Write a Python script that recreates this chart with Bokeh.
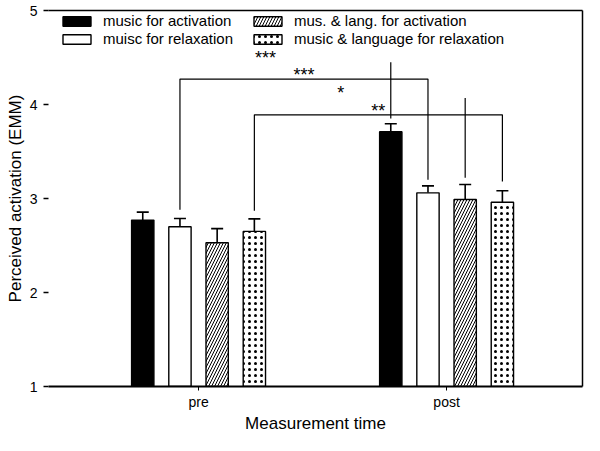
from bokeh.plotting import figure
from bokeh.models import (Range1d, ColumnDataSource, Whisker, TeeHead, LinearAxis,
                          FixedTicker, Legend, LegendItem)
from bokeh.embed import file_html
from bokeh.resources import INLINE
from bokeh.core.properties import value

# ---------------- data ----------------
groups = ["pre", "post"]
group_x = [0, 1]
series_names = ["music for activation", "muisc for relaxation",
                "mus. & lang. for activation", "music & language for relaxation"]
offsets = [-0.225, -0.075, 0.075, 0.225]
bar_width = 0.09

music_act = [2.77, 3.71]
music_rel = [2.70, 3.06]
lang_act = [2.53, 2.99]
lang_rel = [2.65, 2.96]

music_act_err = [0.085, 0.085]
music_rel_err = [0.088, 0.074]
lang_act_err = [0.149, 0.159]
lang_rel_err = [0.133, 0.122]

# significance brackets (pre bar -> post bar of the same series)
bracket_series = [1, 3]
bracket_level = [4.27, 3.89]
bracket_left_end = [2.88, 2.87]
bracket_right_end = [3.20, 3.18]
bracket_label = ["***", "**"]
bracket_label_y = [4.36, 3.97]

# single significance lines above post bars
marker_series = [0, 2]
marker_top = [4.45, 4.07]
marker_bottom = [3.85, 3.22]
marker_label = ["***", "*"]
marker_label_x = [0.27, 0.573]
marker_label_y = [4.54, 4.165]

# ---------------- styles ----------------
FONT = "Liberation Sans"
fills = ["black", "white", "white", "white"]
hatches = [None, None, "/", "."]
hatch_scales = [None, None, 6, 6]
hatch_weights = [None, None, 1, 1.1]
values_all = [music_act, music_rel, lang_act, lang_rel]
errs_all = [music_act_err, music_rel_err, lang_act_err, lang_rel_err]

p = figure(width=584, height=435, x_range=Range1d(-0.605, 1.548), y_range=Range1d(1, 5),
           output_backend="svg", toolbar_location=None,
           min_border_left=48, min_border_right=2, min_border_top=10, min_border_bottom=40)
p.xgrid.grid_line_color = None
p.ygrid.grid_line_color = None
p.outline_line_color = None
p.background_fill_color = "white"
p.border_fill_color = "white"

renderers = []
for i in range(4):
    xs = [g + offsets[i] for g in group_x]
    src = ColumnDataSource(dict(x=xs, top=values_all[i],
                                upper=[v + e for v, e in zip(values_all[i], errs_all[i])]))
    kw = dict(x="x", top="top", bottom=1, width=bar_width, source=src,
              fill_color=fills[i], line_color="black", line_width=1.4)
    if hatches[i]:
        kw.update(hatch_pattern=hatches[i], hatch_color="black",
                  hatch_scale=hatch_scales[i], hatch_weight=hatch_weights[i])
    r = p.vbar(**kw)
    renderers.append(r)
    w = Whisker(source=src, base="x", lower="top", upper="upper", dimension="height",
                line_color="black", line_width=1.6,
                upper_head=TeeHead(size=12, line_color="black", line_width=1.6),
                lower_head=None)
    p.add_layout(w)

# brackets
bx, by = [], []
for s, lvl, le, re_ in zip(bracket_series, bracket_level, bracket_left_end, bracket_right_end):
    x0 = group_x[0] + offsets[s]
    x1 = group_x[1] + offsets[s]
    bx.append([x0, x0, x1, x1])
    by.append([le, lvl, lvl, re_])
for s, t, b in zip(marker_series, marker_top, marker_bottom):
    x1 = group_x[1] + offsets[s]
    bx.append([x1, x1])
    by.append([t, b])
p.multi_line(bx, by, line_color="black", line_width=1.2)

lab_x = [((group_x[0] + offsets[s]) + (group_x[1] + offsets[s])) / 2 for s in bracket_series] + marker_label_x
lab_y = bracket_label_y + marker_label_y
lab_t = bracket_label + marker_label
p.text(lab_x, lab_y, text=lab_t, text_font=value(FONT), text_font_size="18px",
       text_align="center", text_baseline="middle", text_color="black", y_offset=4)

# axes
p.xaxis.ticker = FixedTicker(ticks=group_x)
p.xaxis.major_label_overrides = {0: groups[0], 1: groups[1]}
p.xaxis.axis_label = "Measurement time"
p.yaxis.ticker = FixedTicker(ticks=[1, 2, 3, 4, 5])
p.yaxis.axis_label = "Perceived activation (EMM)"
for ax in [p.xaxis[0], p.yaxis[0]]:
    ax.axis_label_text_font = FONT
    ax.axis_label_text_font_size = "17px"
    ax.axis_label_text_font_style = "normal"
    ax.axis_label_text_color = "black"
    ax.major_label_text_font = FONT
    ax.major_label_text_font_size = "14px"
    ax.major_label_text_color = "black"
    ax.minor_tick_line_color = None
    ax.major_tick_in = 0
    ax.major_tick_line_color = "black"
p.xaxis.axis_line_width = 2
p.xaxis.major_tick_out = 4
p.xaxis.major_label_standoff = 3
p.xaxis.axis_label_standoff = 1
p.yaxis.axis_line_color = None
p.yaxis.major_tick_out = 5
p.yaxis.major_tick_line_width = 1.5
p.yaxis.major_label_standoff = 6
p.yaxis.axis_label_standoff = 2

top_ax = LinearAxis(ticker=FixedTicker(ticks=[]), axis_line_width=1.5, major_label_text_font_size="0px",
                    minor_tick_line_color=None, major_tick_line_color=None)
right_ax = LinearAxis(ticker=FixedTicker(ticks=[]), axis_line_width=1.5, major_label_text_font_size="0px",
                      minor_tick_line_color=None, major_tick_line_color=None)
p.add_layout(top_ax, "above")
p.add_layout(right_ax, "right")

legend = Legend(items=[LegendItem(label=n, renderers=[r]) for n, r in zip(series_names, renderers)],
                ncols=2, location=(11, 339), padding=0, margin=0, spacing=1,
                glyph_width=35, glyph_height=12, label_height=16, label_width=146,
                label_standoff=9, label_text_font=FONT, label_text_font_size="15px",
                label_text_color="black", border_line_color=None, background_fill_alpha=0)
p.add_layout(legend)

open("out.html", "w").write(file_html(p, INLINE))
